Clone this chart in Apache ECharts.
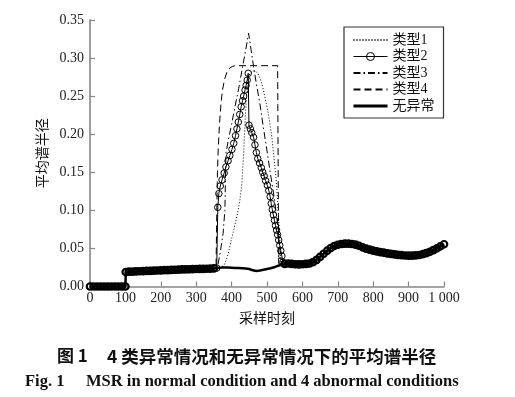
<!DOCTYPE html>
<html>
<head>
<meta charset="UTF-8">
<title></title>
<script src="https://cdn.jsdelivr.net/npm/echarts@6/dist/echarts.min.js"></script>
<style>
  html, body { margin: 0; padding: 0; background: #fff; }
  #main { width: 515px; height: 397px; }
</style>
</head>
<body>
<div id="main"></div>
<script type="text/javascript">
// 无异常: [采样时刻, 平均谱半径]
var normal = [
  [0,0],[10,0],[20,0],[30,0],[40,0],[50,0],[60,0],[70,0],[80,0],[90,0],[100,0],
  [101,0.019],[110,0.0195],[120,0.0196],[130,0.0198],[140,0.02],[150,0.0202],[160,0.0204],[170,0.0206],[180,0.0208],[190,0.021],
  [200,0.0212],[210,0.0214],[220,0.0216],[230,0.0218],[240,0.022],[250,0.0222],[260,0.0224],[270,0.0225],[280,0.0226],[290,0.0228],
  [300,0.023],[310,0.0231],[320,0.0232],[330,0.0233],[340,0.0235],[350,0.0237],[360,0.0242],[370,0.0248],[380,0.025],[390,0.0248],
  [400,0.0246],[410,0.0244],[420,0.0242],[430,0.024],[440,0.0236],[450,0.023],[460,0.0212],[470,0.0205],[480,0.021],[490,0.022],
  [500,0.023],[510,0.024],[520,0.0252],[530,0.027],[540,0.0285],[550,0.0298],[560,0.0302],[570,0.0298],[580,0.0292],[590,0.029],
  [600,0.0292],[610,0.0296],[620,0.0302],[630,0.032],[640,0.035],[650,0.039],[660,0.043],[670,0.047],[680,0.0505],[690,0.0532],
  [700,0.0548],[710,0.0558],[720,0.0562],[730,0.0562],[740,0.0558],[750,0.055],[760,0.0535],[770,0.0515],[780,0.0498],[790,0.0484],
  [800,0.0472],[810,0.0462],[820,0.0452],[830,0.0444],[840,0.0436],[850,0.0429],[860,0.0422],[870,0.0416],[880,0.0411],[890,0.0407],
  [900,0.0405],[910,0.0405],[920,0.0408],[930,0.0414],[940,0.0424],[950,0.0438],[960,0.0456],[970,0.0478],[980,0.0502],[990,0.0528],[1000,0.0555]
];

// 异常段 (其余时刻与无异常相同)
var type1Peak = [
  [372,0.025],[380,0.029],[390,0.042],[396,0.055],[405,0.072],[415,0.092],[423,0.112],[429,0.135],[434,0.175],[438,0.215],
  [442,0.25],[446,0.272],[452,0.28],[460,0.283],[468,0.283],[475,0.279],[482,0.272],[490,0.258],[498,0.24],[505,0.224],
  [514,0.195],[520,0.168],[526,0.14],[530,0.112],[534,0.08],[537,0.052],[540,0.031]
];
var type2Peak = [
  [358,0.0242],[361,0.104],[364,0.122],[368,0.132],[373,0.14],[379,0.149],[384,0.157],[390,0.165],[395,0.172],[401,0.18],
  [406,0.188],[411,0.198],[415,0.207],[419,0.216],[423,0.226],[427,0.236],[431,0.244],[434,0.25],[438,0.258],[441,0.264],
  [444,0.271],[447,0.28],[449,0.212],[453,0.207],[457,0.202],[462,0.196],[466,0.186],[470,0.176],[474,0.168],[479,0.162],
  [484,0.156],[488,0.15],[492,0.145],[496,0.139],[501,0.133],[505,0.126],[509,0.118],[512,0.109],[515,0.101],[518,0.094],
  [521,0.087],[524,0.08],[527,0.074],[530,0.068],[533,0.061],[536,0.054],[539,0.047],[542,0.04],[545,0.032]
];
var type3Peak = [
  [360,0.025],[368,0.045],[376,0.07],[381,0.1],[384,0.175],[392,0.195],[400,0.213],[410,0.237],[420,0.26],[430,0.286],
  [440,0.311],[448,0.3325],[455,0.311],[462,0.289],[470,0.266],[480,0.24],[490,0.208],[500,0.178],[510,0.147],[520,0.118],
  [528,0.09],[534,0.063],[538,0.042],[542,0.03]
];
var type4Peak = [
  [356,0.024],[358,0.09],[360,0.15],[362,0.178],[366,0.215],[370,0.24],[374,0.257],[380,0.272],[387,0.282],[395,0.287],
  [402,0.289],[410,0.29],[530,0.29],[533,0.03]
];

var seriesNames = ['类型1', '类型2', '类型3', '类型4', '无异常'];
var xTickLabels = ['0', '100', '200', '300', '400', '500', '600', '700', '800', '900', '1 000'];
var yTickLabels = ['0.00', '0.05', '0.10', '0.15', '0.20', '0.25', '0.30', '0.35'];

// 拼接: 无异常前段 + 异常段 + 无异常后段
function withPeak(peak, baseStyle) {
  var t0 = peak[0][0], t1 = peak[peak.length - 1][0];
  var wrap = function(p) { return baseStyle ? { value: p, itemStyle: baseStyle } : p; };
  return normal.filter(function(p) { return p[0] < t0; }).map(wrap)
    .concat(peak)
    .concat(normal.filter(function(p) { return p[0] > t1; }).map(wrap));
}

var serif = '"Liberation Serif", "Noto Sans CJK SC", serif';
var axisColor = '#858585';
var noMark = { color: 'rgba(0,0,0,0)', borderWidth: 0 };

var chart = echarts.init(document.getElementById('main'));
var thin = function(type) {
  return { color: '#000', width: 1, type: type };
};

chart.setOption({
  animation: false,
  backgroundColor: '#fff',
  grid: { left: 90, right: 71, top: 20, bottom: 110.5 },
  legend: {
    orient: 'vertical',
    left: 344,
    top: 27,
    padding: [6, 9, 5, 8],
    itemWidth: 34,
    itemHeight: 10,
    itemGap: 2.5,
    selectedMode: false,
    borderColor: '#333',
    borderWidth: 1.2,
    textStyle: { fontFamily: serif, fontSize: 14, lineHeight: 14, color: '#111' },
    data: [
      seriesNames[0],
      { name: seriesNames[1], itemStyle: { borderWidth: 1 }, lineStyle: { width: 1 } },
      seriesNames[2],
      seriesNames[3],
      { name: seriesNames[4], lineStyle: { width: 3 } }
    ]
  },
  xAxis: {
    type: 'value',
    min: 0, max: 1000, interval: 100,
    name: '采样时刻',
    nameLocation: 'middle',
    nameGap: 24,
    nameTextStyle: { fontFamily: '"Noto Sans CJK SC"', fontSize: 14, color: '#111' },
    axisLine: { show: true, onZero: false, lineStyle: { color: axisColor, width: 1.6 } },
    axisTick: { show: true, inside: true, length: 5, lineStyle: { color: axisColor, width: 1.2 } },
    splitLine: { show: false },
    axisLabel: {
      fontFamily: serif, fontSize: 14, color: '#222', margin: 5,
      formatter: function(v) { return xTickLabels[Math.round(v / 100)]; }
    }
  },
  yAxis: {
    type: 'value',
    min: 0, max: 0.35, interval: 0.05,
    name: '平均谱半径',
    nameLocation: 'middle',
    nameRotate: 90,
    nameGap: 36,
    nameTextStyle: { fontFamily: '"Noto Sans CJK SC"', fontSize: 14, color: '#111' },
    axisLine: { show: true, lineStyle: { color: axisColor, width: 1.6 } },
    axisTick: { show: true, inside: true, length: 5, lineStyle: { color: axisColor, width: 1.2 } },
    splitLine: { show: false },
    axisLabel: {
      fontFamily: serif, fontSize: 14, color: '#222', margin: 6,
      formatter: function(v) { return yTickLabels[Math.round(v / 0.05)]; }
    }
  },
  series: [
    {
      name: seriesNames[0], type: 'line', symbol: 'none', silent: true, itemStyle: noMark,
      lineStyle: thin([1, 2]), data: withPeak(type1Peak)
    },
    {
      name: seriesNames[1], type: 'line', symbol: 'circle', symbolSize: 6.5, silent: true,
      itemStyle: { color: 'rgba(0,0,0,0)', borderColor: '#000', borderWidth: 1 },
      lineStyle: thin('solid'),
      // 与无异常重合的部分标记很密, 看上去是一条粗黑带
      data: withPeak(type2Peak, { color: 'rgba(0,0,0,0)', borderColor: '#000', borderWidth: 2.2 })
    },
    {
      name: seriesNames[2], type: 'line', symbol: 'none', silent: true, itemStyle: noMark,
      lineStyle: thin([7, 3, 1.5, 3]), data: withPeak(type3Peak)
    },
    {
      name: seriesNames[3], type: 'line', symbol: 'none', silent: true, itemStyle: noMark,
      lineStyle: thin([7, 4]), data: withPeak(type4Peak)
    },
    {
      name: seriesNames[4], type: 'line', symbol: 'none', silent: true, itemStyle: noMark,
      lineStyle: { color: '#000', width: 2.5 }, data: normal
    }
  ],
  graphic: [
    { type: 'text', x: 57, y: 356, style: { text: '图 1', font: 'bold 17px "Noto Sans CJK SC"', fill: '#111', verticalAlign: 'middle' } },
    { type: 'text', x: 107, y: 356, style: { text: '4 类异常情况和无异常情况下的平均谱半径', font: 'bold 17.5px "Noto Sans CJK SC"', fill: '#111', verticalAlign: 'middle' } },
    { type: 'text', x: 25, y: 382, style: { text: 'Fig. 1', font: 'bold 16.5px "Liberation Serif"', fill: '#111', verticalAlign: 'middle' } },
    { type: 'text', x: 86, y: 382, style: { text: 'MSR in normal condition and 4 abnormal conditions', font: 'bold 16.5px "Liberation Serif"', fill: '#111', verticalAlign: 'middle' } }
  ]
});
</script>
</body>
</html>
